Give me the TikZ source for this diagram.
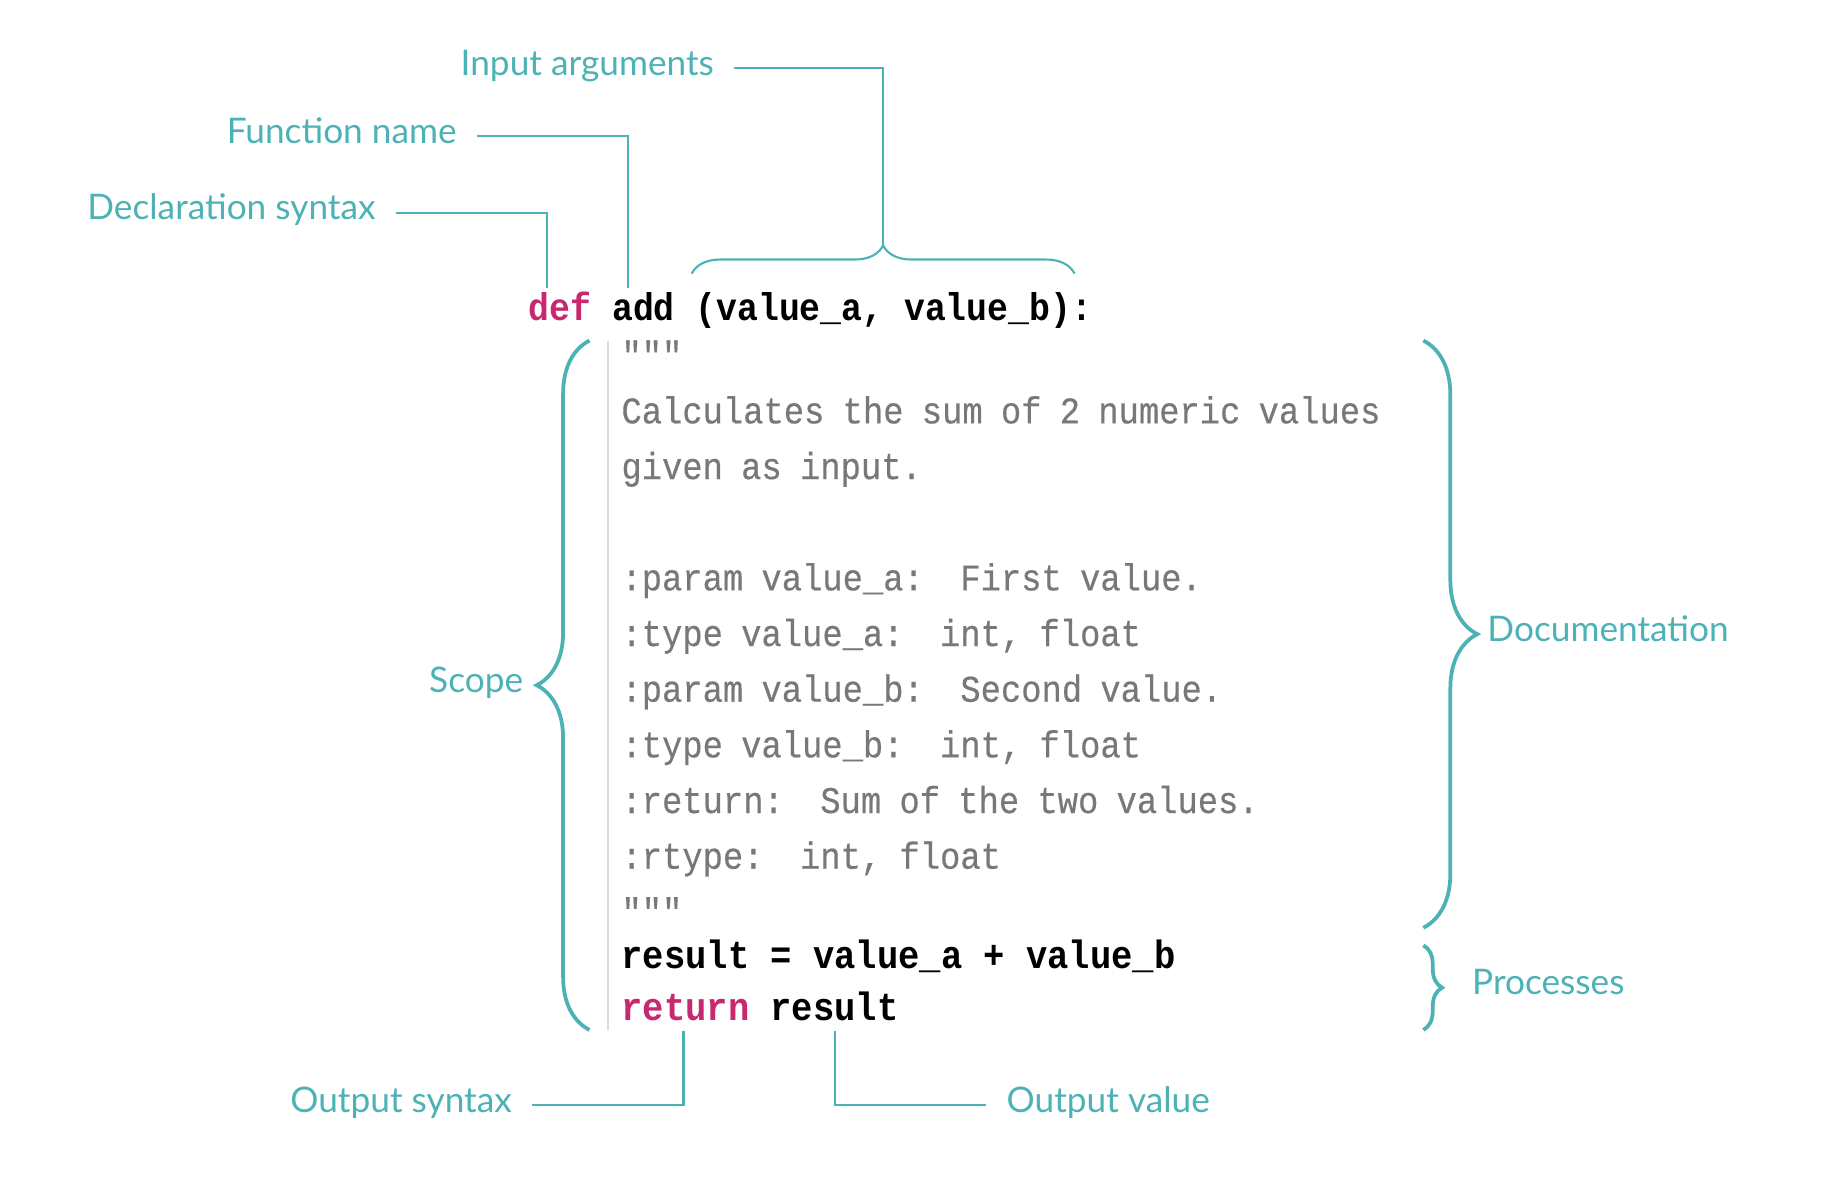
\documentclass[tikz,border=0pt]{standalone}
\usepackage{fontspec}
\setmainfont{Lato}
\newfontfamily\codefont[FakeStretch=0.9]{Liberation Mono}
\newfontfamily\docfont[FakeStretch=0.9,WordSpace=0.9,FakeBold=0.4]{Liberation Mono}
\usetikzlibrary{decorations.pathreplacing,positioning}
\definecolor{noteteal}{RGB}{77,178,181}
\definecolor{kwpink}{RGB}{200,40,110}
\definecolor{docgray}{RGB}{120,120,120}
\definecolor{rulegray}{RGB}{220,220,220}
\begin{document}
\begin{tikzpicture}[x=1pt,y=1pt,
	note/.style={text=noteteal,font=\fontsize{30}{33}\selectfont,inner xsep=17pt,inner ysep=0pt,text height=1.2em,text depth=0em},
	brace note/.style={note,inner xsep=0pt},
	doc line/.style={anchor=base west,inner sep=0pt,text=docgray,font=\docfont\fontsize{32}{34}\selectfont},
	code line/.style={anchor=base west,inner sep=0pt,text=black,font=\codefont\bfseries\fontsize{33.6}{36}\selectfont},
	link/.style={draw=noteteal,line width=1.8pt},
	curly/.style={draw=noteteal,line width=3.2pt,decorate,decoration={brace,amplitude=#1}}]
	\useasboundingbox (0,0) rectangle (1560,-1010);

	% code
	\node[code line,font=\codefont\bfseries\fontsize{32.9}{36}\selectfont] (head) at (450,-272.5) {\textcolor{kwpink}{def} add (value\_a, value\_b):};
	\foreach \n/\txt in {0/{"""},
			1/{Calculates the sum of 2 numeric values},
			2/{given as input.},
			4/{:param value\_a:\ \ First value.},
			5/{:type value\_a:\ \ int, float},
			6/{:param value\_b:\ \ Second value.},
			7/{:type value\_b:\ \ int, float},
			8/{:return:\ \ Sum of the two values.},
			9/{:rtype:\ \ int, float},
			10/{"""}}
		\node[doc line] (doc\n) at (529,-313.1-47.4*\n) {\txt};
	\node[code line] (sum) at (529,-825) {result = value\_a + value\_b};
	\node[code line] (ret) at (529,-869) {\textcolor{kwpink}{return} result};
	\draw[rulegray,line width=1.5pt] (518,-290) -- (518,-877);

	% notes
	\node[note,anchor=east] (decl) at (337,-181) {Declaration syntax};
	\node[note,anchor=east] (fname) at (406,-116) {Function name};
	\node[note,anchor=east] (inargs) at (625,-58) {Input arguments};
	\node[note,anchor=east] (outsyn) at (453,-941) {Output syntax};
	\node[note,anchor=west] (outval) at (840,-941) {Output value};

	\coordinate (declend) at (466,-245);
	\coordinate (fnameend) at (535,-245);
	\coordinate (retend) at (582,-878);
	\coordinate (resend) at (711,-878);

	% braces
	\draw[curly=24pt,line width=1.8pt] (589,-233) -- (915,-233) coordinate[midway,yshift=24pt] (argtip);
	\draw[curly=45pt] (502,-877) -- (502,-290) node[brace note,midway,left=55pt] (scope) {Scope};
	\draw[curly=46pt] (1212,-290) -- (1212,-790) node[brace note,midway,right=53pt] (docs) {Documentation};
	\draw[curly=16pt] (1212,-805) -- (1212,-877) node[brace note,midway,right=40pt] (procs) {Processes};

	\path[link]
		(decl) edge[to path={-| (\tikztotarget)}] (declend)
		(fname) edge[to path={-| (\tikztotarget)}] (fnameend)
		(inargs) edge[to path={-| (\tikztotarget)}] (argtip)
		(outsyn) edge[to path={-| (\tikztotarget)}] (retend)
		(outval) edge[to path={-| (\tikztotarget)}] (resend)
		;
\end{tikzpicture}
\end{document}
